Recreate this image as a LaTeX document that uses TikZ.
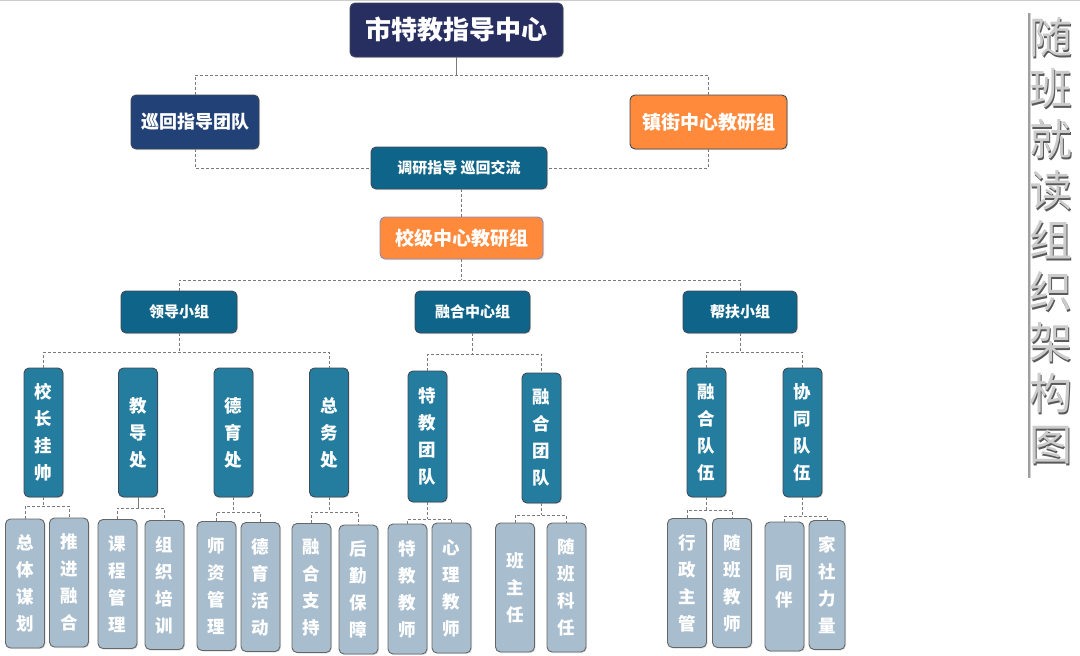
\documentclass[tikz,border=0pt]{standalone}
\usepackage{fontspec}
\newfontfamily\cjk{Noto Sans CJK SC}
\usetikzlibrary{shadows}
\definecolor{cNavy}{HTML}{272E60}
\definecolor{cBlue}{HTML}{224177}
\definecolor{cOrange}{HTML}{FF8A3C}
\definecolor{cTeal}{HTML}{0F6489}
\definecolor{cMid}{HTML}{247D9F}
\definecolor{cLight}{HTML}{A8BDCE}
\definecolor{cEdge}{HTML}{3F4A55}
\definecolor{cConn}{HTML}{7A7A7A}
\tikzset{
  box/.style={draw=cEdge, line width=0.9pt, rounded corners=5pt, text=white, inner sep=0pt, align=center,
    drop shadow={shadow xshift=1pt, shadow yshift=-1pt, opacity=0.25}},
  topbox/.style={box, minimum height=54pt, font=\cjk\bfseries\fontsize{18}{22}\selectfont},
  midbox/.style={box, fill=cTeal, minimum height=42pt, font=\cjk\bfseries\fontsize{15}{18}\selectfont},
  vbox/.style={box, fill=cMid, minimum width=39pt, minimum height=129pt, font=\cjk\bfseries\fontsize{17.5}{27}\selectfont},
  leaf/.style={box, fill=cLight, draw=black!60, minimum width=39pt, minimum height=129pt, font=\cjk\bfseries\fontsize{17.5}{27}\selectfont},
  conn/.style={draw=cConn, line width=0.8pt, dash pattern=on 3pt off 2pt},
  solidconn/.style={draw=cConn, line width=0.9pt},
}
\begin{document}
\begin{tikzpicture}[x=1pt,y=-1pt]
\useasboundingbox (0,0) rectangle (1080,656);
\draw[black!20, line width=0.6pt] (0,0.5) -- (1080,0.5);

% top level
\node[box, fill=cNavy, minimum width=213pt, minimum height=54pt, font=\cjk\bfseries\fontsize{26}{30}\selectfont] (t) at (456.5,30) {市特教指导中心};
\node[topbox, fill=cBlue, minimum width=128pt] (xh) at (195,122) {巡回指导团队};
\node[topbox, fill=cOrange, minimum width=157pt, font=\cjk\bfseries\fontsize{19}{22}\selectfont] (zj) at (708.5,122) {镇街中心教研组};
\node[midbox, minimum width=176pt] (dy) at (459,168) {调研指导 巡回交流};
\node[box, fill=cOrange, draw=blue!30!gray!70, minimum width=163pt, minimum height=42pt, font=\cjk\bfseries\fontsize{19}{22}\selectfont] (xj) at (461.5,238) {校级中心教研组};

% level 2
\node[midbox, minimum width=116pt] (ld) at (179,312) {领导小组};
\node[midbox, minimum width=115pt] (rh) at (472.5,312) {融合中心组};
\node[midbox, minimum width=114pt] (bf) at (740,312) {帮扶小组};

% level 3
\node[vbox] (a1) at (43.5,432.5) {校\\长\\挂\\帅};
\node[vbox] (a2) at (138,432.5) {教\\导\\处};
\node[vbox] (a3) at (233.5,432.5) {德\\育\\处};
\node[vbox] (a4) at (329,432.5) {总\\务\\处};
\node[vbox, minimum height=131pt] (b1) at (427.5,436.5) {特\\教\\团\\队};
\node[vbox, minimum height=130pt] (b2) at (541.5,438) {融\\合\\团\\队};
\node[vbox] (c1) at (706.5,432.5) {融\\合\\队\\伍};
\node[vbox] (c2) at (802.5,432.5) {协\\同\\队\\伍};

% leaves
\node[leaf] (l1) at (25,583.5) {总\\体\\谋\\划};
\node[leaf] (l2) at (69,582.5) {推\\进\\融\\合};
\node[leaf] (l3) at (117.5,584) {课\\程\\管\\理};
\node[leaf] (l4) at (164.5,585) {组\\织\\培\\训};
\node[leaf] (l5) at (216.5,586) {师\\资\\管\\理};
\node[leaf] (l6) at (260.5,587) {德\\育\\活\\动};
\node[leaf] (l7) at (311.5,588) {融\\合\\支\\持};
\node[leaf] (l8) at (358.5,589.5) {后\\勤\\保\\障};
\node[leaf, minimum height=130pt] (l9) at (407.5,589) {特\\教\\教\\师};
\node[leaf, minimum height=130pt] (l10) at (451.5,588) {心\\理\\教\\师};
\node[leaf] (l11) at (515,587.5) {班\\主\\任};
\node[leaf] (l12) at (566.5,587.5) {随\\班\\科\\任};
\node[leaf] (l13) at (687,583) {行\\政\\主\\管};
\node[leaf] (l14) at (732,583) {随\\班\\教\\师};
\node[leaf] (l15) at (784.5,586.5) {同\\伴};
\node[leaf, minimum width=36pt] (l16) at (827,585) {家\\社\\力\\量};

% connectors top
\draw[solidconn] (t.south) -- (t.south |- 0,75);
\draw[conn] (xh.north) |- (zj.north |- 0,75) -- (zj.north);
\draw[conn] (xh.south) |- (dy.west);
\draw[conn] (zj.south) |- (dy.east);
\draw[conn] (xj.north |- dy.south) -- (xj.north);
\draw[conn] (xj.south) -- (xj.south |- 0,280);
\draw[conn] (ld.north) |- (bf.north |- 0,280) -- (bf.north);

% level 2 to level 3
\draw[conn] (ld.south) -- (ld.south |- 0,352);
\draw[conn] (a1.north) |- (a4.north |- 0,352) -- (a4.north);
\draw[conn] (rh.south) -- (rh.south |- 0,354);
\draw[conn] (b1.north) |- (b2.north |- 0,354) -- (b2.north);
\draw[conn] (bf.south) -- (bf.south |- 0,352);
\draw[conn] (c1.north) |- (c2.north |- 0,352) -- (c2.north);

% level 3 to leaves
\draw[conn] (a1.south) -- (a1.south |- 0,506);
\draw[conn] (l1.north) |- (l2.north |- 0,506) -- (l2.north);
\draw[solidconn] (a2.south) -- (a2.south |- 0,508);
\draw[conn] (l3.north) |- (l4.north |- 0,508) -- (l4.north);
\draw[conn] (a3.south) -- (a3.south |- 0,512);
\draw[conn] (l5.north) |- (l6.north |- 0,512) -- (l6.north);
\draw[conn] (a4.south) -- (a4.south |- 0,512);
\draw[conn] (l7.north) |- (l8.north |- 0,512) -- (l8.north);
\draw[conn] (b1.south) -- (b1.south |- 0,519);
\draw[conn] (l9.north) |- (l10.north |- 0,519) -- (l10.north);
\draw[conn] (b2.south) -- (b2.south |- 0,515);
\draw[conn] (l11.north) |- (l12.north |- 0,515) -- (l12.north);
\draw[conn] (c1.south) -- (c1.south |- 0,510);
\draw[conn] (l13.north) |- (l14.north |- 0,510) -- (l14.north);
\draw[conn] (c2.south) -- (c2.south |- 0,516);
\draw[conn] (l15.north) |- (l16.north |- 0,516) -- (l16.north);

% right title
\draw[gray!75, line width=2.2pt] (1029,13) -- (1029,478);
\draw[gray!35, line width=0.8pt] (1030.5,13) -- (1030.5,478);
\node[font=\cjk\fontsize{43}{50.9}\selectfont, text=black!65, align=center, inner sep=0pt, anchor=north] (ttlsh) at (1052.3,19) {随\\班\\就\\读\\组\\织\\架\\构\\图};
\node[font=\cjk\fontsize{43}{50.9}\selectfont, text=gray!40, align=center, inner sep=0pt, anchor=north] (ttl) at (1050.5,17) {随\\班\\就\\读\\组\\织\\架\\构\\图};
\end{tikzpicture}
\end{document}
